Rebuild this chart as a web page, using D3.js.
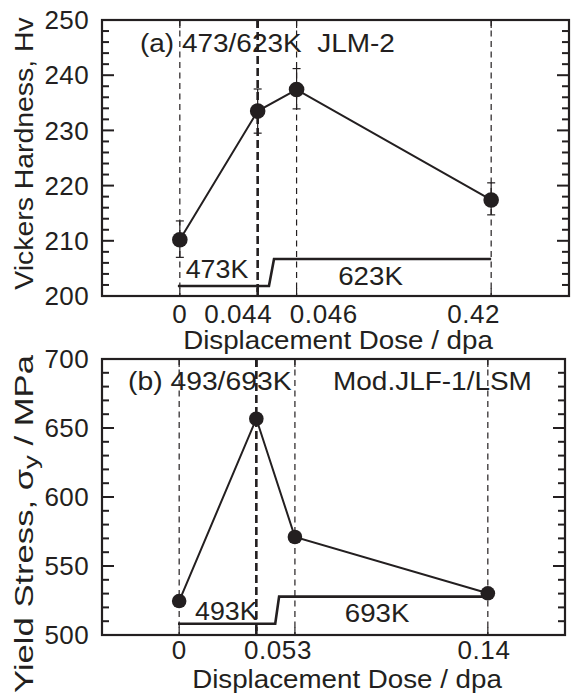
<!DOCTYPE html>
<html><head><meta charset="utf-8">
<script src="https://cdn.jsdelivr.net/npm/d3@7"></script>
<style>
body{margin:0;background:#fff;}
svg text{font-family:"Liberation Sans",Arial,Helvetica,sans-serif;fill:#231f20;}
</style></head>
<body><svg id="c" width="571" height="695"></svg>
<script>
// ---------- data ----------
// Panel (a): Vickers hardness, JLM-2, 473/623K
const doseLabelsA = ["0", "0.044", "0.046", "0.42"];
const hardness = [210.2, 233.5, 237.4, 217.4];
const hardnessUpper = [213.6, 237.5, 241.2, 220.5];
const hardnessLower = [207.0, 229.5, 233.9, 214.7];
const yTicksA = [200, 210, 220, 230, 240, 250];
const tempNamesA = ["473K", "623K"];
const tempLevelsA = [201.8, 206.7];

// Panel (b): yield stress, Mod.JLF-1/LSM, 493/693K
const doseLabelsB = ["0", "0.053", "0.14"];
const yieldStress = [524.6, 656.7, 571.0, 530.2];
const yTicksB = [500, 550, 600, 650, 700];
const tempNamesB = ["493K", "693K"];
const tempLevelsB = [508.2, 527.8];

// ---------- drawing ----------
const ink = "#231f20";
const svg = d3.select("#c");

// text placed at (x,y), optionally rotated, stretched along its direction to a given length
function label(g, str, x, y, size, target, anchor, rot) {
  const t = g.append("text").attr("x", 0).attr("y", 0)
    .attr("font-size", size).attr("text-anchor", anchor || "start")
    .attr("xml:space", "preserve");
  if (typeof str === "function") str(t); else t.text(str);
  const w = t.node().getBBox().width;
  const s = target ? target / w : 1;
  t.attr("transform", `translate(${x},${y})${rot ? ` rotate(${rot})` : ""} scale(${s},1)`);
  return t;
}

function panel(cfg) {
  const g = svg.append("g");
  const x = d3.scaleLinear().domain([-2, 10]).range([cfg.left, cfg.right]);
  const y = d3.scaleLinear().domain(cfg.ydom).range([cfg.bottom, cfg.top]);
  const slots = [0, 2, 3, 8];

  // dashed guide lines
  slots.forEach((s, i) => {
    g.append("line").attr("x1", x(s)).attr("x2", x(s))
      .attr("y1", cfg.top).attr("y2", cfg.bottom)
      .attr("stroke", ink)
      .attr("stroke-width", i === 1 ? 2.6 : 1.2)
      .attr("stroke-dasharray", i === 1 ? "8,4" : "6,4.5");
    [[cfg.bottom, cfg.bottom - 8], [cfg.top, cfg.top + 8]].forEach(([a, b]) => {
      g.append("line").attr("x1", x(s)).attr("x2", x(s)).attr("y1", a).attr("y2", b)
        .attr("stroke", ink).attr("stroke-width", i === 1 ? 2.6 : 1.2);
    });
  });

  // y ticks (inward, both sides) with minor ticks
  const minor = d3.range(cfg.ydom[0], cfg.ydom[1] + 1e-9, cfg.minorStep);
  const axL = d3.axisLeft(y).tickValues(minor).tickSize(0).tickFormat("");
  g.append("g").attr("transform", `translate(${cfg.left},0)`).call(axL)
    .call(s => s.select(".domain").remove());
  minor.forEach(v => {
    const major = cfg.yticks.some(t => Math.abs(t - v) < 1e-6);
    const len = major ? 12 : 7;
    g.append("line").attr("x1", cfg.left).attr("x2", cfg.left + len)
      .attr("y1", y(v)).attr("y2", y(v)).attr("stroke", ink).attr("stroke-width", 2);
    g.append("line").attr("x1", cfg.right).attr("x2", cfg.right - len)
      .attr("y1", y(v)).attr("y2", y(v)).attr("stroke", ink).attr("stroke-width", 2);
  });
  g.selectAll(".ytl").data(cfg.yticks).enter().append("text")
    .attr("x", cfg.left - 13).attr("y", d => y(d)).attr("dy", "0.35em")
    .attr("text-anchor", "end").attr("font-size", 26).attr("letter-spacing", 0.4)
    .text(d => d);

  // frame
  g.append("rect").attr("x", cfg.left).attr("y", cfg.top)
    .attr("width", cfg.right - cfg.left).attr("height", cfg.bottom - cfg.top)
    .attr("fill", "none").attr("stroke", ink).attr("stroke-width", 2.2);

  // x tick labels
  cfg.xlabels.forEach((t, i) => {
    g.append("text").attr("x", x(cfg.xlabelSlots[i])).attr("y", cfg.bottom + cfg.tickGap)
      .attr("text-anchor", "middle").attr("font-size", 26).attr("letter-spacing", 0.6).text(t);
  });
  // x title
  label(g, "Displacement Dose / dpa", cfg.xtitleX, cfg.bottom + 53, 25, 310, "middle");

  // temperature history
  const tl = cfg.tempLevels;
  const tpath = [[cfg.tStep[0], tl[0]], [cfg.tStep[1], tl[0]], [cfg.tStep[2], tl[1]], [8, tl[1]]];
  g.append("path").attr("d", d3.line().x(d => x(d[0])).y(d => y(d[1]))(tpath))
    .attr("fill", "none").attr("stroke", ink).attr("stroke-width", 2.6);
  label(g, cfg.tempNames[0], x(cfg.tLab[0][0]), y(cfg.tLab[0][1]), 25, 63, "start");
  label(g, cfg.tempNames[1], x(cfg.tLab[1][0]), y(cfg.tLab[1][1]), 25, 65, "middle");

  // error bars
  if (cfg.upper) {
    slots.forEach((s, i) => {
      const cx = x(s);
      g.append("line").attr("x1", cx).attr("x2", cx).attr("y1", y(cfg.upper[i])).attr("y2", y(cfg.lower[i]))
        .attr("stroke", ink).attr("stroke-width", 1.2);
      [cfg.upper[i], cfg.lower[i]].forEach(v => {
        g.append("line").attr("x1", cx - 4).attr("x2", cx + 4).attr("y1", y(v)).attr("y2", y(v))
          .attr("stroke", ink).attr("stroke-width", 1.2);
      });
    });
  }

  // data line + markers
  const pts = cfg.values.map((v, i) => [slots[i], v]);
  g.append("path").attr("d", d3.line().x(d => x(d[0])).y(d => y(d[1]))(pts))
    .attr("fill", "none").attr("stroke", ink).attr("stroke-width", 2);
  g.selectAll(".pt").data(pts).enter().append("circle")
    .attr("cx", d => x(d[0])).attr("cy", d => y(d[1])).attr("r", cfg.r).attr("fill", ink);

  return {x, y, g};
}

const A = panel({
  left: 102, right: 569, top: 20, bottom: 296, tickGap: 27,
  ydom: [200, 250], yticks: yTicksA, minorStep: 2,
  xlabels: doseLabelsA, xlabelSlots: [0, 1.5, 3.7, 7.55], xtitleX: 338,
  tempLevels: tempLevelsA, tempNames: tempNamesA,
  tStep: [-0.05, 2.29, 2.42], tLab: [[0.15, 203.3], [4.9, 202.0]],
  values: hardness, upper: hardnessUpper, lower: hardnessLower, r: 7.8
});
label(A.g, "(a) 473/623K  JLM-2", 140, 52, 25, 255, "start");
label(A.g, "Vickers Hardness, Hv", 33, 153.5, 25, 273, "middle", -90);

const B = panel({
  left: 102, right: 565, top: 359, bottom: 635, tickGap: 24,
  ydom: [500, 700], yticks: yTicksB, minorStep: 10,
  xlabels: doseLabelsB, xlabelSlots: [0, 2.56, 7.9], xtitleX: 347,
  tempLevels: tempLevelsB, tempNames: tempNamesB,
  tStep: [-0.03, 2.49, 2.59], tLab: [[0.41, 510.9], [5.13, 509.4]],
  values: yieldStress, r: 7.3
});
label(B.g, "(b) 493/693K", 128, 390, 25, 164, "start");
label(B.g, "Mod.JLF-1/LSM", 333, 390, 25, 199, "start");
label(B.g, t => {
  t.append("tspan").text("Yield Stress, σ");
  t.append("tspan").attr("dy", 5).attr("font-size", 20).text("y");
  t.append("tspan").attr("dy", -5).text(" / MPa");
}, 33, 524, 25, 338, "middle", -90);
</script></body></html>
